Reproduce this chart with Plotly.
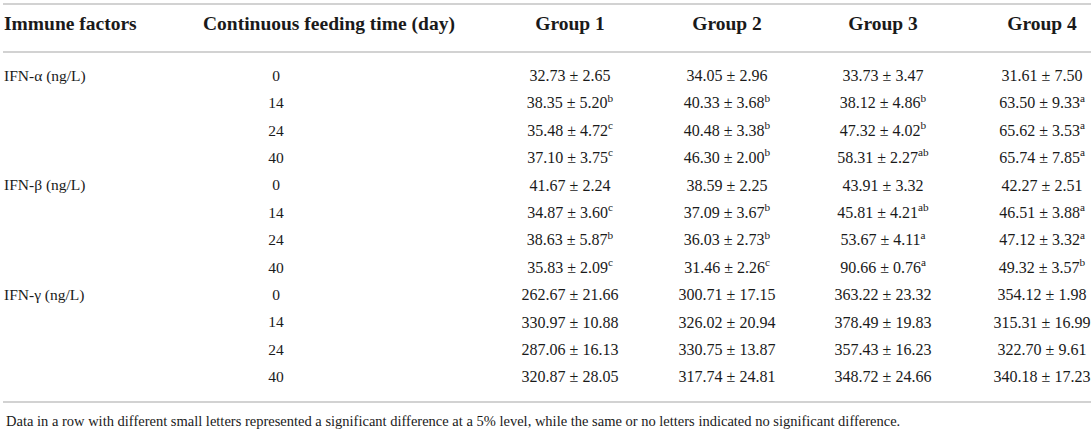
import plotly.graph_objects as go

# --- Table data ---
factors = ["IFN-α (ng/L)", "IFN-β (ng/L)", "IFN-γ (ng/L)"]
days = [0, 14, 24, 40]
group_names = ["Group 1", "Group 2", "Group 3", "Group 4"]
header_factor = "Immune factors"
header_time = "Continuous feeding time (day)"
footnote = ("Data in a row with different small letters represented a significant difference "
            "at a 5% level, while the same or no letters indicated no significant difference.")

g1_mean = [32.73, 38.35, 35.48, 37.10, 41.67, 34.87, 38.63, 35.83, 262.67, 330.97, 287.06, 320.87]
g1_sd = [2.65, 5.20, 4.72, 3.75, 2.24, 3.60, 5.87, 2.09, 21.66, 10.88, 16.13, 28.05]
g1_sig = ["", "b", "c", "c", "", "c", "b", "c", "", "", "", ""]

g2_mean = [34.05, 40.33, 40.48, 46.30, 38.59, 37.09, 36.03, 31.46, 300.71, 326.02, 330.75, 317.74]
g2_sd = [2.96, 3.68, 3.38, 2.00, 2.25, 3.67, 2.73, 2.26, 17.15, 20.94, 13.87, 24.81]
g2_sig = ["", "b", "b", "b", "", "b", "b", "c", "", "", "", ""]

g3_mean = [33.73, 38.12, 47.32, 58.31, 43.91, 45.81, 53.67, 90.66, 363.22, 378.49, 357.43, 348.72]
g3_sd = [3.47, 4.86, 4.02, 2.27, 3.32, 4.21, 4.11, 0.76, 23.32, 19.83, 16.23, 24.66]
g3_sig = ["", "b", "b", "ab", "", "ab", "a", "a", "", "", "", ""]

g4_mean = [31.61, 63.50, 65.62, 65.74, 42.27, 46.51, 47.12, 49.32, 354.12, 315.31, 322.70, 340.18]
g4_sd = [7.50, 9.33, 3.53, 7.85, 2.51, 3.88, 3.32, 3.57, 1.98, 16.99, 9.61, 17.23]
g4_sig = ["", "a", "a", "a", "", "a", "a", "b", "", "", "", ""]

groups = [(g1_mean, g1_sd, g1_sig), (g2_mean, g2_sd, g2_sig),
          (g3_mean, g3_sd, g3_sig), (g4_mean, g4_sd, g4_sig)]

# --- Layout constants (pixels) ---
W, H = 1091, 432
ROW0, ROW_STEP = 77, 27.4
COL_FACTOR_X = 4
COL_TIME_X = 276
COL_TIME_HEAD_X = 203
GROUP_X = [570, 727, 883, 1042]
FONT = "Liberation Serif, Times New Roman, serif"
INK = "#1a1a1a"
RULE = "#d2d2d2"


def ypos(px):
    # pixel from top -> row-index axis value
    return (px - ROW0) / ROW_STEP


n_rows = len(factors) * len(days)
rows = list(range(n_rows))

factor_col = []
for f in factors:
    factor_col += [f] + [""] * (len(days) - 1)
time_col = [str(d) for _ in factors for d in days]

fig = go.Figure()

# Row labels (left aligned)
fig.add_trace(go.Scatter(
    x=[COL_FACTOR_X] * n_rows, y=rows, mode="text", text=factor_col,
    textposition="middle right", textfont=dict(family=FONT, size=15.5, color=INK),
    hoverinfo="skip", showlegend=False,
))

# Feeding time column
fig.add_trace(go.Scatter(
    x=[COL_TIME_X] * n_rows, y=rows, mode="text", text=time_col,
    textposition="middle center", textfont=dict(family=FONT, size=15.5, color=INK),
    hoverinfo="skip", showlegend=False,
))

# Group columns
for gx, (mean, sd, sig) in zip(GROUP_X, groups):
    cells = []
    for m, s, l in zip(mean, sd, sig):
        txt = f"{m:.2f} ± {s:.2f}"
        if l:
            txt += f"<sup>{l}</sup>"
        cells.append(txt)
    fig.add_trace(go.Scatter(
        x=[gx] * n_rows, y=rows, mode="text", text=cells,
        textposition="middle center", textfont=dict(family=FONT, size=16, color=INK),
        hoverinfo="skip", showlegend=False,
    ))

# Header row
head_y = ypos(25)
fig.add_trace(go.Scatter(
    x=[COL_FACTOR_X, COL_TIME_HEAD_X], y=[head_y, head_y], mode="text",
    text=[f"<b>{header_factor}</b>", f"<b>{header_time}</b>"],
    textposition="middle right", textfont=dict(family=FONT, size=19.5, color=INK),
    hoverinfo="skip", showlegend=False,
))
fig.add_trace(go.Scatter(
    x=GROUP_X, y=[head_y] * len(GROUP_X), mode="text",
    text=[f"<b>{g}</b>" for g in group_names],
    textposition="middle center", textfont=dict(family=FONT, size=19.5, color=INK),
    hoverinfo="skip", showlegend=False,
))

# Horizontal rules
for py in (4, 52, 402):
    fig.add_shape(type="line", xref="x", yref="y", x0=3, x1=W, y0=ypos(py), y1=ypos(py),
                  line=dict(color=RULE, width=2))

fig.add_annotation(
    x=COL_FACTOR_X, y=ypos(421), xref="x", yref="y", xanchor="left", yanchor="middle",
    text=footnote, showarrow=False, font=dict(family=FONT, size=14.5, color=INK),
)

fig.update_layout(
    width=W, height=H,
    margin=dict(l=0, r=0, t=0, b=0),
    paper_bgcolor="white", plot_bgcolor="white",
    xaxis=dict(range=[0, W], visible=False, fixedrange=True),
    yaxis=dict(range=[ypos(H), ypos(0)], visible=False, fixedrange=True),
    showlegend=False,
)

fig.write_html(
    "out.html",
    config={"displayModeBar": False},
    post_script="document.body.style.margin='0';document.body.style.overflow='hidden';",
)
